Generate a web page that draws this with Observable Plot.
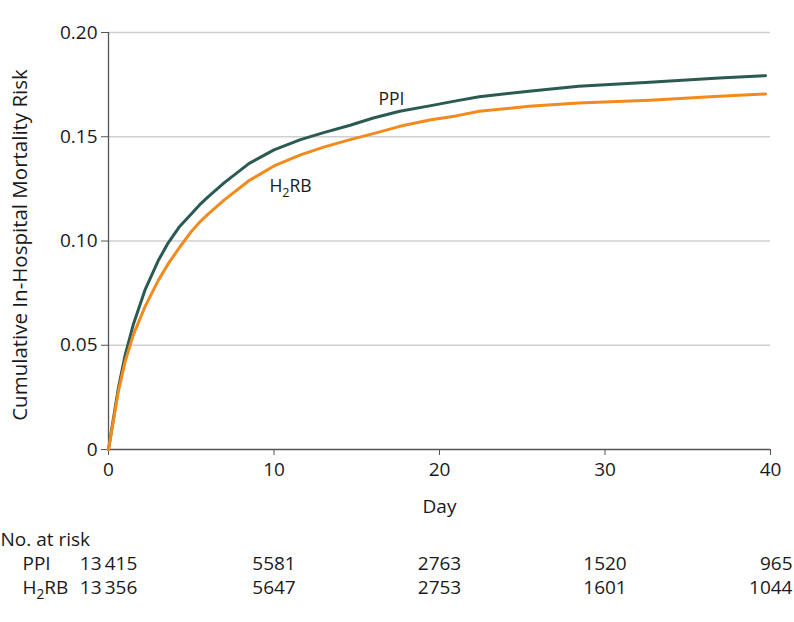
<!DOCTYPE html>
<html>
<head>
<meta charset="utf-8">
<script src="https://cdn.jsdelivr.net/npm/d3@7"></script>
<script src="https://cdn.jsdelivr.net/npm/@observablehq/plot@0.6"></script>
<style>
  html, body { margin: 0; padding: 0; background: #fff; }
  #chart svg { display: block; }
</style>
</head>
<body>
<div id="chart"></div>
<script>
// ---- data ----
const days = [0, 0.3, 0.6, 1.0, 1.5, 2.2, 3, 3.6, 4.3, 5, 5.5, 6, 7, 8.5, 10, 11.6, 13, 14.6, 16, 17.6, 19.4, 21, 22.4, 25.4, 28.4, 32.7, 36.9, 39.7];
const ppi  = [0, 0.015, 0.0296, 0.045, 0.060, 0.0764, 0.0905, 0.0990, 0.1070, 0.1130, 0.1173, 0.1210, 0.1280, 0.1372, 0.1437, 0.1486, 0.1520, 0.1555, 0.1590, 0.1622, 0.1648, 0.1672, 0.1692, 0.1718, 0.1742, 0.1761, 0.1782, 0.1793];
const h2rb = [0, 0.014, 0.0280, 0.042, 0.055, 0.0684, 0.0810, 0.0890, 0.0970, 0.1045, 0.1090, 0.1128, 0.1197, 0.1290, 0.1360, 0.1413, 0.1450, 0.1486, 0.1515, 0.1550, 0.1580, 0.1600, 0.1622, 0.1646, 0.1662, 0.1675, 0.1694, 0.1705];

const riskDays = [0, 10, 20, 30, 40];
const riskPPI  = ["13\u2009415", "5581", "2763", "1520", "965"];
const riskH2RB = ["13\u2009356", "5647", "2753", "1601", "1044"];

const xTicks = [0, 10, 20, 30, 40];
const yTicks = [0, 0.05, 0.10, 0.15, 0.20];

const groups = ["PPI", "H2RB"];
const colors = ["#2b5a52", "#f28a1c"];

const series = [
  ...days.map((d, i) => ({day: d, risk: ppi[i], group: "PPI"})),
  ...days.map((d, i) => ({day: d, risk: h2rb[i], group: "H2RB"}))
];
const curveLabels = [
  {day: 17.1, risk: 0.168, label: "PPI"},
  {day: 11.0, risk: 0.126, label: "H2RB"}
];
const rowPPI = riskDays.map((d, i) => ({day: d, n: riskPPI[i]}));
const rowH2 = riskDays.map((d, i) => ({day: d, n: riskH2RB[i]}));
const lastCol = d => d.day === 40;

const textColor = "#1a1a1a";
const tf = 19; // table font size

const chart = Plot.plot({
  width: 794,
  height: 622,
  marginTop: 32,
  marginLeft: 108,
  marginRight: 24,
  marginBottom: 173,
  style: {fontFamily: "'Open Sans', sans-serif", fontSize: "17px", color: textColor, background: "#fff", overflow: "visible"},
  x: {domain: [0, 40]},
  y: {domain: [0, 0.20]},
  color: {domain: groups, range: colors},
  marks: [
    Plot.gridY(yTicks.slice(1), {stroke: "#cfcfcf", strokeOpacity: 1, strokeWidth: 1.5}),
    Plot.ruleX([0], {stroke: "#555", strokeWidth: 1.3}),
    Plot.ruleY([0], {stroke: "#555", strokeWidth: 1.3}),
    Plot.axisY({ticks: yTicks, tickFormat: d => d === 0 ? "0" : d.toFixed(2), tickSize: 7, tickPadding: 4, stroke: "#555", label: null, fontSize: 19, fill: textColor}),
    Plot.axisX({ticks: xTicks, tickSize: 6, tickPadding: 7, stroke: "#555", label: null, fontSize: 19, fill: textColor}),
    Plot.text(["Cumulative In-Hospital Mortality Risk"], {frameAnchor: "left", rotate: -90, dx: -88, dy: 4, textAnchor: "middle", lineAnchor: "middle", text: d => d, fontSize: 20.5, fill: textColor}),
    Plot.text(["Day"], {frameAnchor: "bottom", dy: 57, lineAnchor: "middle", text: d => d, fontSize: 19, fill: textColor}),
    Plot.line(series, {x: "day", y: "risk", z: "group", stroke: "group", strokeWidth: 3, curve: "linear"}),
    Plot.text(curveLabels, {x: "day", y: "risk", text: "label", fontSize: 17.5, fill: textColor}),
    Plot.text(["No. at risk"], {frameAnchor: "bottom-left", dx: -108, dy: 90, textAnchor: "start", lineAnchor: "middle", text: d => d, fontSize: tf, fill: textColor}),
    Plot.text(["PPI"], {frameAnchor: "bottom-left", dx: -86, dy: 114, textAnchor: "start", lineAnchor: "middle", text: d => d, fontSize: tf, fill: textColor}),
    Plot.text(["H2RB"], {frameAnchor: "bottom-left", dx: -86, dy: 138, textAnchor: "start", lineAnchor: "middle", text: d => d, fontSize: tf, fill: textColor}),
    Plot.text(rowPPI.filter(d => !lastCol(d)), {x: "day", frameAnchor: "bottom", dy: 114, lineAnchor: "middle", text: "n", fontSize: tf, fill: textColor}),
    Plot.text(rowH2.filter(d => !lastCol(d)), {x: "day", frameAnchor: "bottom", dy: 138, lineAnchor: "middle", text: "n", fontSize: tf, fill: textColor}),
    Plot.text(rowPPI.filter(lastCol), {x: "day", frameAnchor: "bottom", dy: 114, dx: 22, textAnchor: "end", lineAnchor: "middle", text: "n", fontSize: tf, fill: textColor}),
    Plot.text(rowH2.filter(lastCol), {x: "day", frameAnchor: "bottom", dy: 138, dx: 22, textAnchor: "end", lineAnchor: "middle", text: "n", fontSize: tf, fill: textColor})
  ]
});

// subscript the 2 in H2RB
chart.querySelectorAll("text").forEach(t => {
  if (t.textContent === "H2RB" && t.children.length === 0) {
    t.textContent = "";
    const ns = "http://www.w3.org/2000/svg";
    const a = document.createElementNS(ns, "tspan"); a.textContent = "H";
    const b = document.createElementNS(ns, "tspan"); b.textContent = "2";
    b.setAttribute("dy", "5"); b.setAttribute("font-size", "0.72em");
    const c = document.createElementNS(ns, "tspan"); c.textContent = "RB";
    c.setAttribute("dy", "-5");
    t.append(a, b, c);
  }
});

document.getElementById("chart").appendChild(chart);
</script>
</body>
</html>
